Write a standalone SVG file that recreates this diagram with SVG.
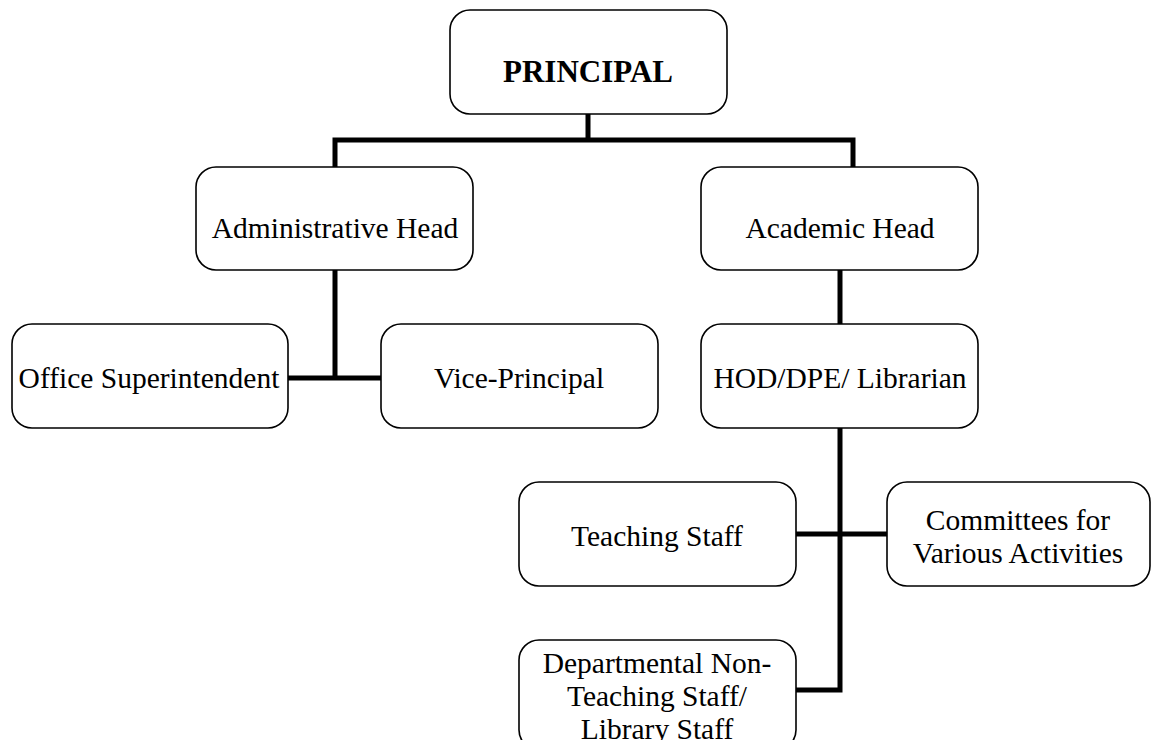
<svg xmlns="http://www.w3.org/2000/svg" width="1152" height="740" viewBox="0 0 1152 740">
<style>
.box{fill:#fff;stroke:#000;stroke-width:1.6}
.t{font-family:"Liberation Serif","Times New Roman",serif;font-size:29.5px;fill:#000;text-anchor:middle}
.b{font-weight:bold;font-size:31px}
.c{fill:none;stroke:#000;stroke-width:5;stroke-linecap:butt;stroke-linejoin:miter}
</style>
<rect width="1152" height="740" fill="#fff"/>
<g id="connectors">
<path class="c" d="M588 114 V140 M335 167 V140 H853 V167"/>
<path class="c" d="M335 270 V378 M288 378 H381"/>
<path class="c" d="M840 270 V324"/>
<path class="c" d="M840 428 V690 H796 M796 534 H887"/>
</g>
<g id="principal"><rect class="box" x="450" y="10" width="277" height="104" rx="20"/><text class="t b" x="588" y="82">PRINCIPAL</text></g>
<g id="admin-head"><rect class="box" x="196" y="167" width="277" height="103" rx="20"/><text class="t" x="335" y="238">Administrative Head</text></g>
<g id="academic-head"><rect class="box" x="701" y="167" width="277" height="103" rx="20"/><text class="t" x="840" y="238">Academic Head</text></g>
<g id="office-superintendent"><rect class="box" x="12" y="324" width="276" height="104" rx="20"/><text class="t" x="149" y="388">Office Superintendent</text></g>
<g id="vice-principal"><rect class="box" x="381" y="324" width="277" height="104" rx="20"/><text class="t" x="519" y="388">Vice-Principal</text></g>
<g id="hod"><rect class="box" x="701" y="324" width="277" height="104" rx="20"/><text class="t" x="840" y="388">HOD/DPE/ Librarian</text></g>
<g id="teaching-staff"><rect class="box" x="519" y="482" width="277" height="104" rx="20"/><text class="t" x="657" y="546">Teaching Staff</text></g>
<g id="committees"><rect class="box" x="887" y="482" width="263" height="104" rx="20"/><text class="t" x="1018" y="530">Committees for</text><text class="t" x="1018" y="563">Various Activities</text></g>
<g id="departmental"><rect class="box" x="519" y="640" width="277" height="110" rx="20"/><text class="t" x="657" y="673">Departmental Non-</text><text class="t" x="657" y="706">Teaching Staff/</text><text class="t" x="657" y="739">Library Staff</text></g>
</svg>
